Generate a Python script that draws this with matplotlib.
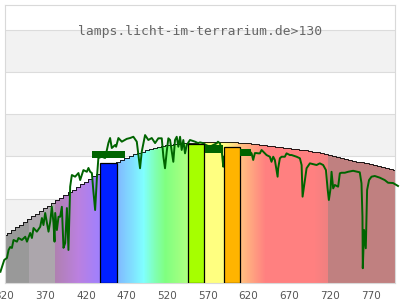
import numpy as np
import matplotlib
matplotlib.use("Agg")
import matplotlib.pyplot as plt
from matplotlib.colors import to_rgb

title = "lamps.licht-im-terrarium.de>130"

# stepped reference curve (black outline), every 5 nm
ref_nm = np.arange(320, 801, 5)
ref_val = [34.0, 35.9, 37.8, 39.7, 41.6, 43.5, 45.4, 47.3, 49.2, 51.1,
           53.0, 54.9, 56.8, 58.7, 60.6, 62.5, 64.4, 66.3, 68.2, 70.1,
           72.0, 73.9, 75.8, 77.7, 79.6, 81.5, 83.2, 84.9, 86.4, 87.8,
           89.0, 90.2, 91.4, 92.4, 93.4, 94.3, 95.2, 95.9, 96.6, 97.2,
           97.8, 98.3, 98.7, 99.0, 99.3, 99.5, 99.7, 99.9, 100.0, 100.0,
           100.0, 100.0, 100.0, 100.0, 100.0, 100.0, 100.0, 100.0, 99.8, 99.6,
           99.3, 99.0, 98.6, 98.3, 97.9, 97.5, 97.1, 96.8, 96.4, 96.1,
           95.8, 95.5, 95.2, 94.8, 94.4, 93.9, 93.4, 92.9, 92.3, 91.7,
           91.0, 90.3, 89.6, 88.9, 88.2, 87.6, 87.0, 86.4, 85.8, 85.1,
           84.4, 83.7, 83.0, 82.3, 81.6, 81.0, 80.3]

# measured lamp spectrum (green line)
spec_nm = [315.0, 319.7, 323.0, 325.0, 327.0, 329.1, 331.1, 335.3, 337.2, 341.4,
           345.5, 347.6, 351.6, 353.7, 355.7, 359.8, 363.9, 366.0, 367.9, 370.0,
           374.1, 376.2, 378.2, 380.2, 381.5, 382.3, 384.4, 386.4, 388.4, 390.5,
           392.5, 394.6, 396.7, 398.6, 400.7, 402.8, 406.8, 410.9, 413.0, 417.0,
           421.2, 423.2, 425.3, 427.4, 429.3, 431.4, 433.5, 435.4, 439.6, 443.7,
           447.7, 449.8, 451.9, 455.9, 457.2, 460.0, 464.2, 470.3, 474.4, 478.4,
           482.6, 486.6, 488.7, 492.8, 496.8, 501.0, 505.1, 509.1, 513.3, 515.3,
           517.3, 519.4, 521.4, 523.5, 525.6, 527.5, 529.6, 531.7, 533.7, 535.8,
           537.8, 539.8, 541.9, 544.0, 548.0, 554.2, 557.9, 560.3, 564.0, 567.7,
           572.6, 576.0, 580.8, 582.4, 584.8, 587.0, 588.9, 590.0, 600.0, 611.4,
           617.0, 621.7, 623.7, 625.7, 627.8, 629.9, 631.9, 633.9, 636.0, 638.0,
           640.0, 642.1, 646.2, 648.2, 650.3, 652.3, 655.7, 656.4, 658.5, 660.6,
           664.6, 666.7, 670.8, 672.9, 679.0, 683.1, 685.2, 686.4, 689.2, 691.3,
           695.4, 703.6, 707.6, 711.7, 715.1, 717.1, 718.7, 720.8, 722.0, 724.0,
           726.0, 730.1, 732.2, 734.2, 738.3, 742.4, 748.5, 756.7, 758.8, 760.0,
           760.4, 762.0, 764.1, 765.7, 768.1, 771.1, 775.1, 781.3, 787.4, 791.5,
           797.6, 803.7]
spec_val = [8.0, 16.4, 17.8, 23.5, 25.6, 24.9, 30.6, 29.4, 32.0, 30.6,
            32.9, 29.4, 35.6, 32.0, 39.1, 36.5, 40.0, 46.2, 41.2, 49.8,
            36.5, 43.6, 54.2, 42.7, 29.4, 49.8, 37.7, 47.1, 47.1, 54.2,
            25.0, 28.4, 53.3, 23.5, 68.5, 76.8, 75.6, 78.2, 73.2, 80.3,
            79.1, 81.8, 79.1, 78.2, 64.9, 51.9, 74.0, 88.9, 89.8, 88.9,
            99.5, 103.1, 96.0, 98.1, 96.9, 103.1, 100.5, 102.5, 103.1, 104.0,
            100.5, 81.6, 93.4, 105.2, 101.7, 103.1, 99.5, 102.9, 102.9, 89.8,
            81.6, 93.4, 102.9, 101.7, 93.4, 86.2, 101.7, 104.0, 96.9, 104.0,
            94.6, 101.7, 92.2, 98.1, 101.7, 100.5, 99.5, 100.0, 99.5, 98.1,
            96.9, 98.0, 99.3, 100.5, 99.3, 94.0, 82.7, 90.0, 94.0, 94.6,
            93.5, 93.4, 92.2, 87.5, 92.4, 92.4, 92.2, 92.2, 94.6, 93.4,
            92.2, 91.0, 89.8, 86.2, 89.8, 87.5, 75.6, 81.6, 88.7, 89.8,
            89.8, 92.2, 91.0, 91.0, 89.8, 88.7, 83.9, 61.4, 73.2, 81.6,
            85.1, 83.9, 85.1, 83.9, 80.3, 67.3, 59.0, 67.3, 79.1, 67.3,
            69.7, 68.5, 78.0, 78.4, 78.4, 79.1, 79.8, 78.7, 70.9, 47.1,
            10.5, 37.7, 24.7, 66.1, 73.2, 75.6, 76.1, 74.9, 73.2, 71.3,
            71.1, 69.0]

# coloured bands with black outline
band_lo = [437, 545, 590]
band_hi = [458, 565, 610]
band_top = [85.3, 98.8, 96.5]
band_colors = ["#0020ff", "#a6ff00", "#ffb400"]

# thick dark green markers
mark_lo = [427, 566, 610]
mark_hi = [468, 589, 623]
mark_bottom = [89.1, 92.4, 90.3]
mark_top = [93.9, 97.8, 95.3]

# colour stops for the wavelength gradient under the curve
stop_nm = [320, 349, 349.01, 381, 381.01, 410, 437, 458, 478, 490, 505, 517,
           545, 565, 589, 610, 640, 700, 716, 716.01, 800]
stop_col = ["#999999", "#999999", "#aca6ac", "#aca6ac", "#b080b0", "#bb80e0",
            "#9f80ff", "#80b8ff", "#80e4ff", "#80ffff", "#80ffb0", "#80ff80",
            "#b0ff80", "#ffff80", "#ffff80", "#ffc080", "#ff8080", "#ff8080",
            "#f08080", "#c08080", "#c08080"]

ymax = 197.7
green = "#006400"

fig = plt.figure(figsize=(4, 3), dpi=100)
ax = fig.add_axes([4.5 / 400, 17 / 300, 390.5 / 400, 278 / 300])

# background stripes + grid
for lo in [30, 90, 150]:
    ax.axhspan(lo, lo + 30, color="#f2f2f2", zorder=0, lw=0)
for g in [30, 60, 90, 120, 150, 180]:
    ax.axhline(g, color="#dcdcdc", lw=0.8, zorder=0.5)

# gradient fill clipped to the stepped curve
grid = np.linspace(320, 800, 961)
rgb = np.array([to_rgb(c) for c in stop_col])
img = np.stack([np.interp(grid, stop_nm, rgb[:, k]) for k in range(3)], axis=-1)[None, :, :]
im = ax.imshow(img, extent=[320, 800, 0, ymax], aspect="auto", origin="lower",
               interpolation="nearest", zorder=1)
env = ax.fill_between(ref_nm, 0, ref_val, step="mid", facecolor="none", edgecolor="none")
im.set_clip_path(env.get_paths()[0], transform=ax.transData)
ax.plot(ref_nm, ref_val, drawstyle="steps-mid", color="black", lw=0.6, zorder=2)

ax.plot(spec_nm, spec_val, color=green, lw=1.4, zorder=3, clip_on=False)

ax.bar(band_lo, band_top, width=np.subtract(band_hi, band_lo), align="edge",
       color=band_colors, edgecolor="black", lw=0.9, zorder=4)
ax.bar(mark_lo, np.subtract(mark_top, mark_bottom), width=np.subtract(mark_hi, mark_lo),
       bottom=mark_bottom, align="edge", color=green, lw=0, zorder=5)

ax.text(0.5006, 0.906, title, transform=ax.transAxes, ha="center", va="center",
        family="DejaVu Sans Mono", fontsize=9.4, color="#666666", zorder=6)

ax.set_xlim(320, 800)
ax.set_ylim(0, ymax)
ax.set_xticks(np.arange(320, 771, 50))
ax.set_yticks([])
ax.tick_params(axis="x", length=0, labelsize=7.5, labelcolor="#555555", pad=6)
for s in ax.spines.values():
    s.set_color("#d9d9d9")
    s.set_linewidth(0.8)

fig.savefig("out.png", dpi=100)
